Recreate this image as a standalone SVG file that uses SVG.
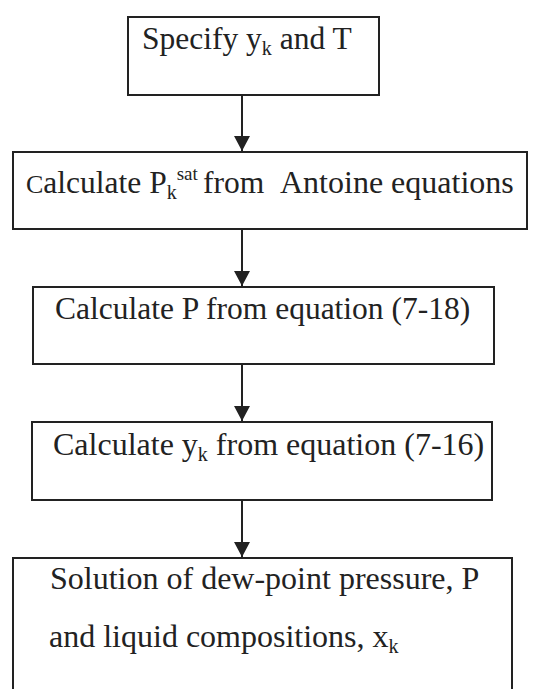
<svg xmlns="http://www.w3.org/2000/svg" width="535" height="689" viewBox="0 0 535 689">
<style>
.box{fill:#fff;stroke:#222;stroke-width:2}
.t{font-family:"Liberation Serif","Times New Roman",serif;font-size:31.5px;fill:#222}
.w{font-size:32px}
.sub{font-size:20px}
.sup{font-size:19px}
.con{stroke:#222;stroke-width:2;fill:none}
</style>
<defs>
<marker id="ah" markerWidth="8" markerHeight="8" refX="7.5" refY="4" orient="auto" markerUnits="strokeWidth">
<path d="M0,0 L7.5,4 L0,8 Z" fill="#222"/>
</marker>
</defs>
<rect width="535" height="689" fill="#fff"/>
<g id="connectors">
<line class="con" x1="242" y1="95" x2="242" y2="151" marker-end="url(#ah)"/>
<line class="con" x1="242" y1="229" x2="242" y2="286" marker-end="url(#ah)"/>
<line class="con" x1="242" y1="364" x2="242" y2="421" marker-end="url(#ah)"/>
<line class="con" x1="242" y1="500" x2="242" y2="557" marker-end="url(#ah)"/>
</g>
<g id="n1">
<rect class="box" x="128" y="17" width="251" height="78"/>
<text class="t" x="142" y="49">Specify y<tspan class="sub" dy="6">k</tspan><tspan dy="-6"> and T</tspan></text>
</g>
<g id="n2">
<rect class="box" x="13" y="152" width="514" height="77"/>
<text class="t" x="26" y="193"><tspan font-size="26">C</tspan>alculate P<tspan class="sub" dy="6">k</tspan><tspan class="sup" dy="-19">sat</tspan><tspan x="203" dy="13">from</tspan><tspan x="280" font-size="32">Antoine equations</tspan></text>
</g>
<g id="n3">
<rect class="box" x="33" y="287" width="461" height="77"/>
<text class="t" x="55" y="319">Calculate P from equation (7-18)</text>
</g>
<g id="n4">
<rect class="box" x="32" y="422" width="460" height="78"/>
<text class="t w" x="53" y="455">Calculate y<tspan class="sub" dy="6">k</tspan><tspan dy="-6"> from equation (7-16)</tspan></text>
</g>
<g id="n5">
<rect class="box" x="13" y="558" width="499" height="140"/>
<text class="t w" x="50" y="589">Solution of dew-point pressure, P</text>
<text class="t w" x="49" y="647">and liquid compositions, x<tspan class="sub" dy="6">k</tspan></text>
</g>
</svg>
